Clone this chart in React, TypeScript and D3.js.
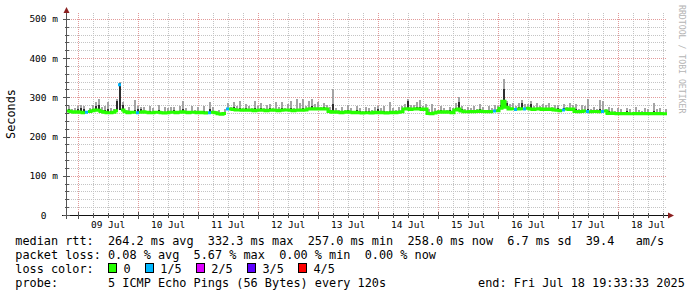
import React from 'react';
import * as d3 from 'd3';

// ---------------- data ----------------
const END_TIME = new Date(2025, 6, 18, 19, 33, 33);
const SPAN_DAYS = 10;

// median rtt per consolidated step (ms), 200 steps over 10 days
const medianRtt = [
  265,263,262,263,262,261,262,264,266,268,267,264,262,261,261,262,266,332,268,263,
  261,262,262,261,262,263,262,261,261,262,262,261,260,261,262,262,261,262,263,262,
  261,262,262,261,262,261,260,261,262,261,258,257,259,270,270,269,268,268,267,268,
  267,268,266,267,268,267,266,267,268,267,266,267,268,268,267,266,267,268,267,268,
  270,271,270,271,270,271,270,264,262,263,262,261,262,263,262,261,262,261,260,261,
  261,260,262,261,262,261,260,261,262,261,262,263,270,271,269,270,271,270,269,270,
  259,258,260,262,263,262,263,262,261,268,270,265,263,263,264,263,264,265,264,263,
  264,263,265,266,272,290,275,270,271,269,270,271,270,272,270,269,270,271,269,270,
  269,270,268,267,266,268,270,269,270,264,263,264,265,264,263,264,264,263,264,265,
  259,260,259,258,259,258,259,258,258,259,258,259,258,259,258,259,258,259,258,258,
];

// smoke: dark band above median (ms)
const smokeDarkUp = [
  4,0,3,6,12,8,0,2,4,10,14,3,5,8,4,2,25,4,12,0,
  5,0,6,10,8,3,0,4,2,0,5,0,3,4,2,5,0,3,6,3,
  0,4,0,3,0,5,0,8,4,0,2,0,3,4,0,6,2,5,0,4,
  3,0,8,3,5,0,3,6,0,4,2,5,0,3,6,0,4,3,5,0,
  4,6,2,3,0,5,3,4,22,3,0,5,0,4,2,0,6,3,0,4,
  3,0,4,8,2,4,0,5,3,0,4,3,4,20,3,2,4,6,0,3,
  2,5,3,0,4,2,0,5,3,6,18,4,0,3,2,4,0,5,3,0,
  4,2,3,4,8,30,10,4,3,2,6,14,4,3,12,2,4,0,3,2,
  4,0,3,6,0,4,0,3,2,5,0,4,3,6,0,3,0,8,4,0,
  5,3,0,4,2,0,5,3,0,4,2,0,3,2,0,5,3,2,0,3,
];

// smoke: light band top above median (ms)
const smokeLightUp = [
  14,6,12,15,18,16,4,10,14,20,28,12,16,26,12,8,30,8,20,5,
  14,4,30,16,14,12,3,16,12,4,18,5,15,12,14,13,4,16,28,12,
  5,15,6,14,4,17,6,27,14,5,10,4,12,16,6,18,10,22,6,16,
  12,5,24,10,18,6,14,16,5,20,10,22,6,14,24,8,30,18,28,10,
  20,26,12,16,6,14,10,12,58,10,5,14,6,18,10,4,16,12,6,14,
  12,8,14,16,10,16,6,27,12,6,14,16,12,24,12,10,18,22,8,12,
  10,24,12,6,16,10,5,14,12,18,30,14,6,12,10,16,6,18,12,5,
  14,10,16,12,20,57,16,12,14,10,16,22,14,12,20,10,16,6,14,10,
  16,6,12,14,5,14,6,16,10,20,6,16,12,32,8,12,5,30,26,6,
  16,12,5,14,10,4,14,12,5,16,10,5,14,10,4,26,12,14,5,12,
];

// smoke: dark band below median (ms)
const smokeDarkDown = [
  0,0,0,0,0,0,0,0,0,0,0,0,0,0,0,0,0,64,0,0,
  0,0,0,0,0,0,0,0,0,0,0,0,0,0,0,0,0,0,0,0,
  0,0,0,0,0,0,0,0,0,0,0,0,0,0,0,0,0,0,0,0,
  0,0,0,0,0,0,0,0,0,0,0,0,0,0,0,0,0,0,0,0,
  0,0,0,0,0,0,0,0,0,0,0,0,0,0,0,0,0,0,0,0,
  0,0,0,0,0,0,0,0,0,0,0,0,0,0,0,0,0,0,0,0,
  0,0,0,0,0,0,0,0,0,0,0,0,0,0,0,0,0,0,0,0,
  0,0,0,0,0,10,0,0,0,0,0,0,0,0,0,0,0,0,0,0,
  0,0,0,0,0,0,0,0,0,0,0,0,0,0,0,0,0,0,0,0,
  0,0,0,0,0,0,0,0,0,0,0,0,0,0,0,0,0,0,0,0,
];

// steps with packet loss (index, lost pings out of 5)
const lossIndex = [6, 17, 23, 47, 53, 142, 149, 152, 165, 173, 178];
const lossLevel = [1, 1, 1, 1, 1, 1, 1, 1, 1, 1, 1];

const lossLabels = ['0', '1/5', '2/5', '3/5', '4/5'];
const lossColors = ['#26ff00', '#00b8ff', '#dd00ff', '#5e00ff', '#ff0000'];

const yTickValues = [0, 100, 200, 300, 400, 500];
const yTickLabels = ['0  ', '100 m', '200 m', '300 m', '400 m', '500 m'];

const legendLines = [
  'median rtt:  264.2 ms avg  332.3 ms max  257.0 ms min  258.0 ms now  6.7 ms sd  39.4   am/s',
  'packet loss: 0.08 % avg  5.67 % max  0.00 % min  0.00 % now',
  'loss color:',
  'probe:       5 ICMP Echo Pings (56 Bytes) every 120s',
];
const endLabel = 'end: Fri Jul 18 19:33:33 2025';
const yTitle = 'Seconds';
const watermark = 'RRDTOOL / TOBI OETIKER';

// ---------------- chart ----------------
const FONT = '"DejaVu Sans Mono", monospace';

export default function App() {
  const W = 697, H = 297;
  const x0 = 67, x1 = 667, yTop = 13, yBot = 215;
  const start = new Date(END_TIME.getTime() - SPAN_DAYS * 864e5);
  const x = d3.scaleTime().domain([start, END_TIME]).range([x0, x1]);
  const y = d3.scaleLinear().domain([0, 515]).range([yBot, yTop]);
  const n = medianRtt.length;
  const step = (END_TIME.getTime() - start.getTime()) / n;
  const colX = (i: number) => x(new Date(start.getTime() + i * step));
  const loss = medianRtt.map(() => 0);
  lossIndex.forEach((idx, k) => { loss[idx] = lossLevel[k]; });

  const snap = (v: number) => Math.round(v) + 0.5;

  // grids
  const hours6 = d3.timeHour.every(6)!.range(start, END_TIME);
  const vMinor = hours6.filter((t) => t.getHours() !== 0);
  const vMajor = d3.timeDay.range(d3.timeDay.ceil(start), END_TIME);
  const dayLabels = vMajor.map((d) => new Date(d.getTime() + 12 * 3600e3)).filter((d) => d < END_TIME);
  const hMinor = d3.range(0, 515, 20).filter((v) => v % 100 !== 0);
  const fmtDay = d3.timeFormat('%d %b');

  const minorCol = '#c4c4c4';
  const majorCol = '#e29a9a';

  // median paths by loss level
  const medianPaths = lossColors.map((_, lvl) => {
    let d = '';
    let prev = false;
    for (let i = 0; i < n; i++) {
      if (loss[i] === lvl) {
        const xa = colX(i), xb = colX(i + 1), yy = y(medianRtt[i]);
        d += prev ? `V${yy}H${xb}` : `M${xa},${yy}H${xb}`;
        prev = true;
      } else prev = false;
    }
    return d;
  });

  const legendFS = 11.85;
  const charW = legendFS * 0.6021;
  const legX = 15.3;
  const lineY = [245, 259, 273, 287];

  let lx = legX + 13 * charW;
  const legendItems = lossLabels.map((lab, k) => {
    const item = { bx: lx, tx: lx + 15.4, lab, col: lossColors[k] };
    lx = item.tx + (lab.length + 2) * charW;
    return item;
  });

  return (
    <svg width={W} height={H} style={{ position: 'absolute', left: 0, top: 0, background: '#fff' }}
      fontFamily={FONT}>
      <rect x={0} y={0} width={W} height={H} fill="#fff" />
      {/* minor grid */}
      <g stroke={minorCol} strokeWidth={1} strokeDasharray="1,1" shapeRendering="crispEdges">
        {vMinor.map((t, i) => (
          <line key={'vm' + i} x1={snap(x(t))} x2={snap(x(t))} y1={yTop} y2={yBot} />
        ))}
        {hMinor.map((v) => (
          <line key={'hm' + v} x1={x0} x2={x1} y1={snap(y(v))} y2={snap(y(v))} />
        ))}
      </g>
      {/* major grid */}
      <g stroke={majorCol} strokeWidth={1} strokeDasharray="1,1" shapeRendering="crispEdges">
        {vMajor.map((t, i) => (
          <line key={'vM' + i} x1={snap(x(t))} x2={snap(x(t))} y1={yTop} y2={yBot} />
        ))}
        {yTickValues.filter((v) => v > 0).map((v) => (
          <line key={'hM' + v} x1={x0} x2={x1} y1={snap(y(v))} y2={snap(y(v))} />
        ))}
      </g>

      {/* smoke */}
      <g shapeRendering="crispEdges">
        {medianRtt.map((m, i) => {
          const xa = colX(i) + 0.5;
          const lt = smokeLightUp[i], dk = smokeDarkUp[i];
          return (
            <g key={'s' + i}>
              {lt > dk && (
                <rect x={xa} width={2} y={y(m + lt)} height={y(m + dk) - y(m + lt)} fill="#a4a4a4" />
              )}
              {(dk > 0 || smokeDarkDown[i] > 0) && (
                <rect x={xa} width={2} y={y(m + dk)} height={y(m - smokeDarkDown[i]) - y(m + dk)} fill="#2e2e2e" />
              )}
            </g>
          );
        })}
      </g>

      {/* median */}
      {medianPaths.map((d, k) => (
        d ? <path key={'mp' + k} d={d} fill="none" stroke={lossColors[k]} strokeWidth={3} /> : null
      ))}

      {/* axes */}
      <g shapeRendering="crispEdges">
        <line x1={66.5} x2={66.5} y1={yTop} y2={219} stroke="#555" />
        <line x1={62} x2={668} y1={215.5} y2={215.5} stroke="#111" />
        {yTickValues.map((v) => (
          <line key={'yt' + v} x1={63} x2={70} y1={snap(y(v))} y2={snap(y(v))} stroke="#555" />
        ))}
        {hMinor.map((v) => (
          <line key={'ytm' + v} x1={64.5} x2={68.5} y1={snap(y(v))} y2={snap(y(v))} stroke="#555" />
        ))}
        {vMajor.map((t, i) => (
          <line key={'xt' + i} x1={snap(x(t))} x2={snap(x(t))} y1={212} y2={219} stroke="#555" />
        ))}
        {vMinor.map((t, i) => (
          <line key={'xtm' + i} x1={snap(x(t))} x2={snap(x(t))} y1={213} y2={218} stroke="#555" />
        ))}
      </g>
      <polygon points="63.5,13 69.5,13 66.5,7" fill="#8b2020" />
      <polygon points="668,212.5 668,218.5 674,215.5" fill="#8b2020" />

      {/* y tick labels */}
      {yTickValues.map((v, i) => (
        <text key={'yl' + v} x={58} y={y(v) + 3.5} fontSize={9.5} textAnchor="end" fill="#000"
          style={{ whiteSpace: 'pre' }}>{yTickLabels[i]}</text>
      ))}
      {/* x labels */}
      {dayLabels.map((d, i) => (
        <text key={'xl' + i} x={x(d)} y={228} fontSize={9.5} textAnchor="middle" fill="#000">{fmtDay(d)}</text>
      ))}

      {/* y title */}
      <text transform={`translate(15,114) rotate(-90)`} fontSize={legendFS} textAnchor="middle" fill="#000">{yTitle}</text>
      {/* watermark */}
      <text transform={`translate(679,5) rotate(90)`} fontSize={8.2} fill="#b4b4b4">{watermark}</text>

      {/* legend */}
      {legendLines.map((s, i) => (
        <text key={'lg' + i} x={legX} y={lineY[i]} fontSize={legendFS} fill="#000" style={{ whiteSpace: 'pre' }}>{s}</text>
      ))}
      {legendItems.map((it, k) => (
        <g key={'li' + k}>
          <rect x={Math.round(it.bx) + 0.5} y={lineY[2] - 9.5} width={8} height={9} fill={it.col} stroke="#000" strokeWidth={1} shapeRendering="crispEdges" />
          <text x={it.tx} y={lineY[2]} fontSize={legendFS} fill="#000">{it.lab}</text>
        </g>
      ))}
      <text x={478} y={lineY[3]} fontSize={legendFS} fill="#000" style={{ whiteSpace: 'pre' }}>{endLabel}</text>
    </svg>
  );
}
